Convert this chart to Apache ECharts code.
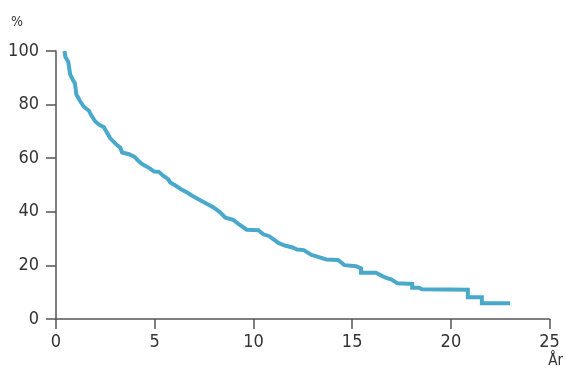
<!DOCTYPE html>
<html>
<head>
<meta charset="utf-8">
<script src="https://cdn.jsdelivr.net/npm/echarts@6/dist/echarts.min.js"></script>
<style>
html,body{margin:0;padding:0;background:#fff;}
#chart{width:566px;height:371px;}
</style>
</head>
<body>
<div id="chart"></div>
<script>
// Time in years (x) and survival in percent (y)
var years = [0.43,0.48,0.62,0.72,0.86,0.96,1.03,1.20,1.41,1.67,1.78,1.99,2.18,2.42,2.61,2.74,3.06,3.26,3.35,3.70,3.98,4.17,4.36,4.73,4.97,5.21,5.44,5.68,5.79,6.07,6.31,6.62,6.94,7.33,7.96,8.30,8.58,8.98,9.22,9.66,10.25,10.50,10.80,11.26,11.59,11.98,12.21,12.55,12.94,13.27,13.69,14.28,14.61,15.20,15.45,15.45,16.20,16.53,16.78,16.96,17.29,18.04,18.04,18.38,18.54,20.86,20.86,21.57,21.57,23.00];
var survival = [100,97.7,96.0,91.2,89.2,87.9,83.8,81.5,79.2,77.7,76.1,73.7,72.5,71.6,69.2,67.5,65.1,63.9,62.1,61.5,60.5,59.0,57.8,56.3,55.0,54.9,53.4,52.2,50.9,49.7,48.5,47.3,45.8,44.2,41.7,39.9,37.8,37.0,35.6,33.3,33.1,31.6,30.9,28.4,27.4,26.7,25.9,25.7,23.9,23.2,22.2,22.0,20.1,19.7,18.9,17.3,17.3,16.0,15.2,14.9,13.3,13.1,11.7,11.7,11.1,10.9,8.1,8.1,5.9,5.9];
var xTicks = [0, 25, 5];   // min, max, interval
var yTicks = [0, 100, 20]; // min, max, interval
var yName = '%';
var xName = 'År';

var pts = years.map(function(x, i){ return [x, survival[i]]; });
var fontFam = "'Liberation Sans Narrow','DejaVu Sans Condensed','Roboto',sans-serif";
var axisColor = '#555';
var chart = echarts.init(document.getElementById('chart'), null, {renderer:'canvas'});
chart.setOption({
  animation: false,
  backgroundColor: '#fff',
  grid: {left: 56, right: 6, top: 51, bottom: 52, containLabel: false},
  xAxis: {
    type: 'value', min: xTicks[0], max: xTicks[1], interval: xTicks[2],
    name: xName, nameLocation: 'end', nameGap: 0,
    nameTextStyle: {color: '#333', fontSize: 15, fontFamily: fontFam, align: 'center', verticalAlign: 'top', padding: [35, 0, 0, 12]},
    axisLine: {show: true, lineStyle: {color: axisColor, width: 1.5}},
    axisTick: {show: true, inside: false, length: 10, lineStyle: {color: axisColor, width: 1.5}},
    axisLabel: {color: '#333', fontSize: 18, fontFamily: fontFam, margin: 14},
    splitLine: {show: false}
  },
  yAxis: {
    type: 'value', min: yTicks[0], max: yTicks[1], interval: yTicks[2],
    name: yName, nameLocation: 'end', nameGap: 22,
    nameTextStyle: {color: '#333', fontSize: 14, fontFamily: fontFam, align: 'right', padding: [0, 33, 0, 0]},
    axisLine: {show: true, lineStyle: {color: axisColor, width: 1.5}},
    axisTick: {show: true, inside: false, length: 10, lineStyle: {color: axisColor, width: 1.5}},
    axisLabel: {color: '#333', fontSize: 18, fontFamily: fontFam, margin: 17},
    splitLine: {show: false}
  },
  series: [{
    type: 'line',
    data: pts,
    showSymbol: false,
    symbol: 'none',
    lineStyle: {color: '#4aa9cb', width: 4, join: 'miter'},
    itemStyle: {color: '#4aa9cb'}
  }]
});
</script>
</body>
</html>
